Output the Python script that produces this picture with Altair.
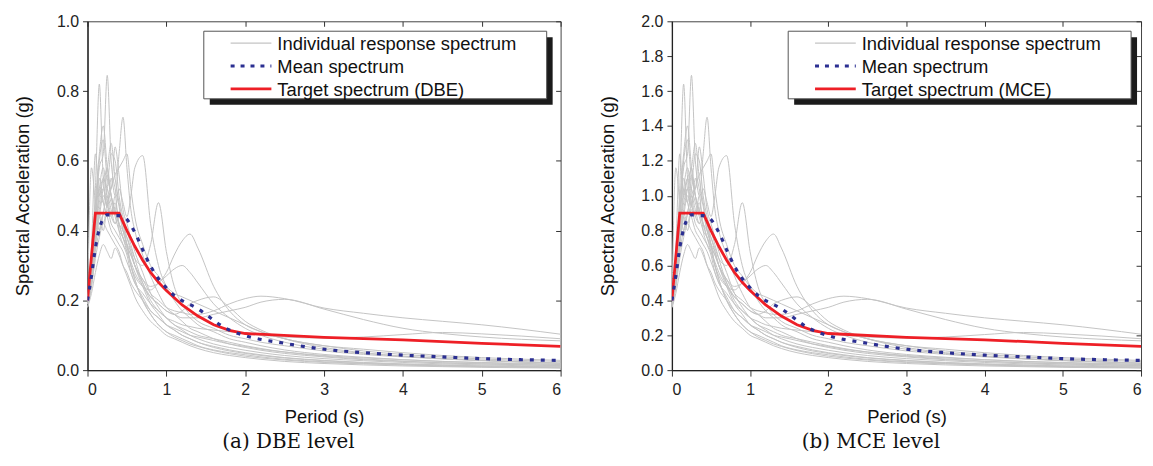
import altair as alt
import pandas as pd

# ---------------- data (DBE level, g) ----------------
periods = [0, 0.05, 0.1, 0.15, 0.2, 0.25, 0.3, 0.35, 0.4, 0.45,
           0.5, 0.55, 0.6, 0.7, 0.8, 0.9, 1.0, 1.1, 1.2, 1.3,
           1.4, 1.6, 1.8, 2.0, 2.2, 2.5, 3.0, 3.5, 4.0, 4.5,
           5.0, 6.0]

rec01 = [0.20, 0.30, 0.52, 0.82, 0.55, 0.48, 0.44, 0.50, 0.40, 0.36, 0.33, 0.28, 0.25, 0.21, 0.17, 0.15, 0.13, 0.115, 0.10, 0.09, 0.08, 0.065, 0.055, 0.048, 0.042, 0.035, 0.027, 0.021, 0.017, 0.014, 0.012, 0.009]
rec02 = [0.19, 0.27, 0.45, 0.58, 0.62, 0.845, 0.60, 0.52, 0.47, 0.40, 0.36, 0.30, 0.26, 0.20, 0.16, 0.13, 0.11, 0.10, 0.09, 0.08, 0.07, 0.058, 0.05, 0.044, 0.038, 0.031, 0.024, 0.019, 0.015, 0.012, 0.01, 0.007]
rec03 = [0.20, 0.28, 0.40, 0.48, 0.52, 0.47, 0.55, 0.50, 0.62, 0.725, 0.58, 0.46, 0.40, 0.33, 0.27, 0.22, 0.18, 0.16, 0.14, 0.12, 0.11, 0.09, 0.075, 0.065, 0.057, 0.048, 0.038, 0.03, 0.025, 0.021, 0.018, 0.013]
rec04 = [0.21, 0.30, 0.44, 0.52, 0.48, 0.56, 0.50, 0.46, 0.52, 0.48, 0.44, 0.50, 0.58, 0.615, 0.42, 0.30, 0.24, 0.20, 0.17, 0.15, 0.13, 0.11, 0.09, 0.08, 0.07, 0.058, 0.045, 0.037, 0.03, 0.025, 0.021, 0.016]
rec05 = [0.20, 0.26, 0.38, 0.46, 0.52, 0.58, 0.50, 0.45, 0.42, 0.40, 0.38, 0.35, 0.32, 0.30, 0.36, 0.48, 0.34, 0.24, 0.19, 0.16, 0.14, 0.12, 0.10, 0.09, 0.08, 0.07, 0.055, 0.045, 0.038, 0.032, 0.027, 0.02]
rec06 = [0.18, 0.24, 0.34, 0.40, 0.45, 0.50, 0.46, 0.42, 0.44, 0.40, 0.36, 0.33, 0.30, 0.26, 0.24, 0.25, 0.28, 0.33, 0.37, 0.39, 0.35, 0.24, 0.17, 0.13, 0.11, 0.09, 0.07, 0.055, 0.045, 0.038, 0.032, 0.025]
rec07 = [0.20, 0.28, 0.40, 0.50, 0.55, 0.52, 0.48, 0.44, 0.40, 0.38, 0.35, 0.33, 0.30, 0.26, 0.22, 0.20, 0.18, 0.17, 0.165, 0.16, 0.16, 0.17, 0.19, 0.205, 0.212, 0.205, 0.178, 0.163, 0.15, 0.14, 0.13, 0.103]
rec08 = [0.19, 0.26, 0.36, 0.44, 0.50, 0.47, 0.44, 0.42, 0.45, 0.42, 0.38, 0.34, 0.30, 0.25, 0.21, 0.19, 0.17, 0.16, 0.15, 0.15, 0.15, 0.16, 0.17, 0.18, 0.195, 0.203, 0.175, 0.145, 0.12, 0.105, 0.095, 0.084]
rec09 = [0.20, 0.27, 0.42, 0.55, 0.48, 0.44, 0.40, 0.38, 0.36, 0.34, 0.31, 0.28, 0.25, 0.22, 0.19, 0.17, 0.15, 0.14, 0.13, 0.125, 0.12, 0.115, 0.11, 0.105, 0.10, 0.095, 0.092, 0.095, 0.102, 0.108, 0.104, 0.09]
rec10 = [0.21, 0.35, 0.62, 0.50, 0.55, 0.58, 0.65, 0.55, 0.48, 0.42, 0.36, 0.30, 0.26, 0.20, 0.16, 0.13, 0.11, 0.095, 0.085, 0.075, 0.068, 0.056, 0.047, 0.04, 0.035, 0.029, 0.022, 0.018, 0.015, 0.012, 0.01, 0.007]
rec11 = [0.19, 0.58, 0.48, 0.40, 0.45, 0.52, 0.62, 0.60, 0.50, 0.44, 0.40, 0.36, 0.32, 0.25, 0.20, 0.17, 0.15, 0.13, 0.115, 0.10, 0.09, 0.075, 0.065, 0.057, 0.05, 0.042, 0.033, 0.027, 0.022, 0.018, 0.015, 0.011]
rec12 = [0.18, 0.22, 0.28, 0.33, 0.36, 0.34, 0.32, 0.35, 0.33, 0.30, 0.28, 0.25, 0.23, 0.20, 0.17, 0.15, 0.13, 0.12, 0.11, 0.10, 0.095, 0.085, 0.075, 0.068, 0.06, 0.052, 0.042, 0.035, 0.03, 0.025, 0.022, 0.017]
rec13 = [0.20, 0.32, 0.45, 0.60, 0.66, 0.55, 0.52, 0.64, 0.56, 0.46, 0.42, 0.38, 0.34, 0.28, 0.22, 0.18, 0.15, 0.13, 0.12, 0.11, 0.10, 0.09, 0.08, 0.07, 0.062, 0.052, 0.04, 0.032, 0.026, 0.021, 0.018, 0.013]
rec14 = [0.19, 0.25, 0.36, 0.45, 0.42, 0.48, 0.52, 0.56, 0.58, 0.60, 0.62, 0.52, 0.44, 0.36, 0.30, 0.27, 0.24, 0.22, 0.21, 0.20, 0.19, 0.17, 0.15, 0.13, 0.11, 0.09, 0.07, 0.06, 0.05, 0.042, 0.036, 0.028]
rec15 = [0.20, 0.30, 0.48, 0.62, 0.70, 0.58, 0.50, 0.46, 0.42, 0.38, 0.36, 0.34, 0.30, 0.24, 0.19, 0.16, 0.13, 0.115, 0.10, 0.09, 0.08, 0.068, 0.058, 0.05, 0.044, 0.036, 0.028, 0.022, 0.018, 0.015, 0.012, 0.009]
rec16 = [0.18, 0.25, 0.36, 0.44, 0.40, 0.46, 0.42, 0.40, 0.38, 0.36, 0.34, 0.31, 0.28, 0.24, 0.21, 0.19, 0.17, 0.16, 0.17, 0.19, 0.20, 0.21, 0.18, 0.14, 0.115, 0.09, 0.065, 0.05, 0.04, 0.033, 0.028, 0.02]
rec17 = [0.20, 0.28, 0.40, 0.52, 0.58, 0.50, 0.45, 0.48, 0.42, 0.38, 0.34, 0.30, 0.27, 0.24, 0.23, 0.25, 0.27, 0.29, 0.30, 0.28, 0.25, 0.19, 0.15, 0.12, 0.10, 0.08, 0.06, 0.048, 0.04, 0.033, 0.028, 0.02]
rec18 = [0.19, 0.24, 0.32, 0.38, 0.42, 0.40, 0.38, 0.36, 0.34, 0.30, 0.27, 0.24, 0.21, 0.17, 0.14, 0.12, 0.10, 0.09, 0.08, 0.07, 0.062, 0.05, 0.042, 0.036, 0.031, 0.025, 0.019, 0.015, 0.012, 0.01, 0.008, 0.006]

records = [rec01, rec02, rec03, rec04, rec05, rec06, rec07, rec08, rec09,
           rec10, rec11, rec12, rec13, rec14, rec15, rec16, rec17, rec18]

mean_periods = [0, 0.05, 0.1, 0.15, 0.2, 0.25, 0.3, 0.35, 0.4, 0.45, 0.5, 0.55, 0.6, 0.7, 0.8, 0.9,
                1.0, 1.1, 1.2, 1.3, 1.4, 1.5, 1.6, 1.7, 1.8, 2.0, 2.5, 3.0, 3.5, 4.0, 4.5, 5.0, 5.5, 6.0]
mean_dbe = [0.20, 0.27, 0.35, 0.405, 0.435, 0.445, 0.445, 0.443, 0.443, 0.44, 0.432, 0.415, 0.395, 0.345, 0.298, 0.262,
            0.236, 0.214, 0.199, 0.188, 0.176, 0.16, 0.143, 0.127, 0.115, 0.099, 0.077, 0.06, 0.05, 0.043, 0.038, 0.033, 0.03, 0.028]

target_periods = [0, 0.1, 0.4, 0.5, 0.6, 0.7, 0.8, 0.9, 1.0, 1.2, 1.4, 1.6, 1.8, 2.0, 3.0, 4.0, 5.0, 6.0]
target_dbe = [0.20, 0.45, 0.45, 0.40, 0.355, 0.315, 0.28, 0.252, 0.228, 0.187, 0.155, 0.13, 0.114, 0.105, 0.094, 0.087, 0.077, 0.068]

mce_factor = 2.0   # MCE spectra are the DBE spectra scaled by 2

x_ticks = [0, 1, 2, 3, 4, 5, 6]
y_ticks_a = [0.0, 0.2, 0.4, 0.6, 0.8, 1.0]
y_ticks_b = [0.0, 0.2, 0.4, 0.6, 0.8, 1.0, 1.2, 1.4, 1.6, 1.8, 2.0]
legend_labels_a = ["Individual response spectrum", "Mean spectrum", "Target spectrum (DBE)"]
legend_labels_b = ["Individual response spectrum", "Mean spectrum", "Target spectrum (MCE)"]
captions = ["(a)  DBE level", "(b)  MCE level"]

GREY = "#c4c4c4"
BLUE = "#2b2f92"
RED = "#ee1f26"
SANS = "Liberation Sans"
SERIF = "DejaVu Serif"

PLOT_H = 351


def panel(factor, ymax, y_ticks, labels, caption, width):
    rec_rows = []
    for i, vals in enumerate(records):
        for p, v in zip(periods, vals):
            rec_rows.append({"record": f"R{i+1:02d}", "period": p, "sa": v * factor})
    df_rec = pd.DataFrame(rec_rows)
    df_mean = pd.DataFrame({"period": mean_periods, "sa": [v * factor for v in mean_dbe]})
    df_tgt = pd.DataFrame({"period": target_periods, "sa": [v * factor for v in target_dbe]})

    xs = alt.Scale(domain=[0, 6], nice=False, zero=False)
    ys = alt.Scale(domain=[0, ymax], nice=False)

    grey = alt.Chart(df_rec).mark_line(color=GREY, strokeWidth=1, interpolate="monotone", clip=True).encode(
        x=alt.X("period:Q", scale=xs, axis=alt.Axis(values=x_ticks, format="d", title="Period (s)",
                                                   tickSize=6, labelPadding=6, titlePadding=10, orient="bottom")),
        y=alt.Y("sa:Q", scale=ys, axis=alt.Axis(values=y_ticks, format=".1f", title="Spectral Acceleration (g)",
                                               tickSize=5, labelPadding=4, titlePadding=24, orient="left")),
        detail="record:N",
    )
    frame_axes = alt.Chart(df_mean).mark_point(opacity=0).encode(
        x=alt.X("period:Q", scale=xs, axis=alt.Axis(values=x_ticks, orient="top", offset=-5, labels=False,
                                                   domain=False, tickSize=5, title=None)),
        y=alt.Y("sa:Q", scale=ys, axis=alt.Axis(values=y_ticks, orient="right", offset=-5, labels=False,
                                               domain=False, tickSize=5, title=None)),
    )
    tgt = alt.Chart(df_tgt).mark_line(color=RED, strokeWidth=2.8, clip=True).encode(
        x=alt.X("period:Q", scale=xs, axis=None), y=alt.Y("sa:Q", scale=ys, axis=None))
    mean = alt.Chart(df_mean).mark_line(color=BLUE, strokeWidth=3.2, strokeDash=[4, 7],
                                        interpolate="monotone", clip=True).encode(
        x=alt.X("period:Q", scale=xs, axis=None), y=alt.Y("sa:Q", scale=ys, axis=None))

    # legend box
    one = pd.DataFrame({"k": [0]})
    lx0, lx1, ly0, ly1 = 117, 462, 10, 78
    shadow = alt.Chart(one).mark_rect(fill="#1b1b1b").encode(
        x=alt.value(lx0 + 6), x2=alt.value(lx1 + 6), y=alt.value(ly0 + 6), y2=alt.value(ly1 + 6))
    box = alt.Chart(one).mark_rect(fill="white", stroke="#555555", strokeWidth=1).encode(
        x=alt.value(lx0), x2=alt.value(lx1), y=alt.value(ly0), y2=alt.value(ly1))
    styles = [(GREY, 1.2, None), (BLUE, 3.2, [4, 6]), (RED, 2.8, None)]
    rows_y = [22, 45, 68]
    leg_layers = [shadow, box]
    for lab, (col, w, dash), ry in zip(labels, styles, rows_y):
        kw = dict(color=col, strokeWidth=w)
        if dash:
            kw["strokeDash"] = dash
        leg_layers.append(alt.Chart(one).mark_rule(**kw).encode(
            x=alt.value(144), x2=alt.value(185), y=alt.value(ry)))
        leg_layers.append(alt.Chart(pd.DataFrame({"label": [lab]})).mark_text(
            align="left", baseline="middle", font=SANS, fontSize=18.5, color="#111").encode(
            x=alt.value(191), y=alt.value(ry + 1), text="label:N"))

    return alt.layer(grey, frame_axes, tgt, mean, *leg_layers).resolve_axis(
        x="independent", y="independent").properties(
        width=width, height=PLOT_H,
        title=alt.TitleParams(text=caption, orient="bottom", font=SERIF, fontSize=20, fontWeight="normal",
                              anchor="middle", frame="bounds", offset=6, color="#111"))


left = panel(1.0, 1.0, y_ticks_a, legend_labels_a, captions[0], 476)
right = panel(mce_factor, 2.0, y_ticks_b, legend_labels_b, captions[1], 472)

chart = alt.hconcat(left, right, spacing=112, bounds="flush").properties(
    padding={"top": 3, "left": 5, "right": 0, "bottom": 0}
).configure_view(stroke="#444444", strokeWidth=1).configure_axis(
    labelFont=SANS, labelFontSize=16, labelColor="#222", titleFont=SANS, titleFontSize=18.5,
    titleFontWeight="normal", titleColor="#111", tickColor="#333", domainColor="#222", domainWidth=1.3,
    grid=False
)

chart.save("out.html", embed_options={"renderer": "svg", "actions": False})
